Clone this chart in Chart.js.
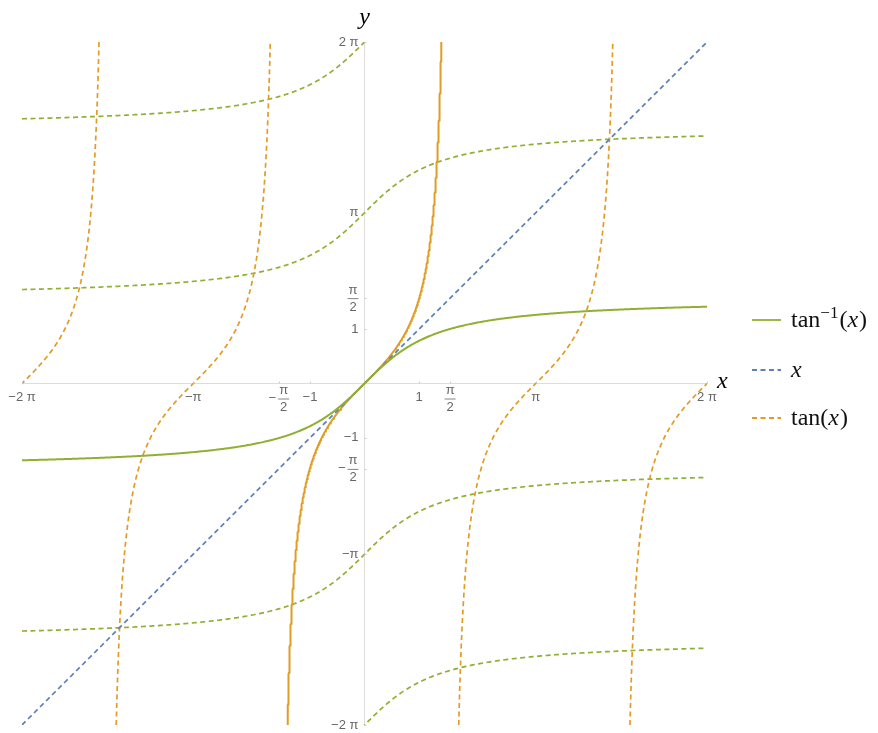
<!DOCTYPE html>
<html lang="en">
<head>
  <meta charset="UTF-8">
  <title>tan, x, arctan</title>
  <script src="https://cdn.jsdelivr.net/npm/chart.js"></script>
  <style>
    body { margin: 0; background: #fff; }
    canvas { display: block; }
  </style>
</head>
<body>
  <canvas id="grafico" width="878" height="733"></canvas>
  <script>
    const PI = Math.PI;
    const range = [-2 * PI, 2 * PI];

    // branch centres of tan(x) in multiples of pi (0 is the solid principal branch)
    const tanDashedCenters = [-2, -1, 1, 2];
    // vertical shifts of arctan(x) in multiples of pi (inverse branches)
    const arctanDashedShifts = [-2, -1, 1, 2];
    // sample parameter along each curve
    const samples = Array.from({ length: 601 }, (_, i) => range[0] + (range[1] - range[0]) * i / 600);

    const xTickValues = [-2 * PI, -PI, -PI / 2, -1, 1, PI / 2, PI, 2 * PI];
    const xTickLabels = ['−2 π', '−π', '−π/2', '−1', '1', 'π/2', 'π', '2 π'];
    const yTickValues = [-2 * PI, -PI, -PI / 2, -1, 1, PI / 2, PI, 2 * PI];
    const yTickLabels = ['−2 π', '−π', '−π/2', '−1', '1', 'π/2', 'π', '2 π'];

    const colors = { blue: '#5E81B5', orange: '#E19C24', green: '#8FB032' };
    const legendItems = [
      { label: 'atan', color: colors.green, dash: [] },
      { label: 'x', color: colors.blue, dash: [5, 3.5] },
      { label: 'tan', color: colors.orange, dash: [5, 3.5] }
    ];

    const arctanPts = shift => samples.map(t => ({ x: t, y: Math.atan(t) + shift * PI }));
    const tanPts = center => samples.map(t => ({ x: Math.atan(t) + center * PI, y: t }));

    const datasets = [
      { data: arctanPts(0), borderColor: colors.green, borderWidth: 2 },
      { data: [{ x: range[0], y: range[0] }, { x: range[1], y: range[1] }], borderColor: colors.blue, borderWidth: 1.7, borderDash: [5, 3.5] },
      { data: tanPts(0), borderColor: colors.orange, borderWidth: 2 }
    ];
    tanDashedCenters.forEach(c => datasets.push({ data: tanPts(c), borderColor: colors.orange, borderWidth: 1.7, borderDash: [5, 3.5] }));
    arctanDashedShifts.forEach(s => datasets.push({ data: arctanPts(s), borderColor: colors.green, borderWidth: 1.7, borderDash: [5, 3.5] }));
    datasets.forEach(d => { d.showLine = true; d.pointRadius = 0; d.fill = false; d.tension = 0; });

    function drawLabel(ctx, text, cx, cy, align) {
      // align: 'center' or 'right'; cy is the vertical centre
      ctx.font = '13px "Liberation Sans", Arial, sans-serif';
      ctx.fillStyle = '#666';
      ctx.textBaseline = 'middle';
      if (text.indexOf('/') < 0) {
        ctx.textAlign = align;
        ctx.fillText(text, cx, cy);
        return;
      }
      const neg = text[0] === '−';
      const [num, den] = (neg ? text.slice(1) : text).split('/');
      const mW = neg ? ctx.measureText('−').width + 2 : 0;
      const fW = Math.max(ctx.measureText(num).width, ctx.measureText(den).width) + 2;
      const total = mW + fW;
      const left = align === 'center' ? cx - total / 2 : cx - total;
      ctx.textAlign = 'left';
      if (neg) ctx.fillText('−', left, cy);
      const fc = left + mW + fW / 2;
      ctx.textAlign = 'center';
      ctx.fillText(num, fc, cy - 8);
      ctx.fillText(den, fc, cy + 9);
      ctx.strokeStyle = '#666';
      ctx.lineWidth = 0.8;
      ctx.beginPath();
      ctx.moveTo(fc - fW / 2, cy + 0.5);
      ctx.lineTo(fc + fW / 2, cy + 0.5);
      ctx.stroke();
    }

    const decorations = {
      id: 'decorations',
      afterDraw(chart) {
        const ctx = chart.ctx;
        const xs = chart.scales.x, ys = chart.scales.y;
        const ox = xs.getPixelForValue(0), oy = ys.getPixelForValue(0);
        ctx.save();
        // tick marks
        ctx.strokeStyle = '#ccc';
        ctx.lineWidth = 1;
        xTickValues.forEach(v => {
          const px = Math.round(xs.getPixelForValue(v)) + 0.5;
          ctx.beginPath(); ctx.moveTo(px, oy); ctx.lineTo(px, oy - 2); ctx.stroke();
        });
        yTickValues.forEach(v => {
          const py = Math.round(ys.getPixelForValue(v)) + 0.5;
          ctx.beginPath(); ctx.moveTo(ox, py); ctx.lineTo(ox + 2, py); ctx.stroke();
        });
        // tick labels
        xTickValues.forEach((v, i) => {
          const cy = xTickLabels[i].indexOf('/') < 0 ? oy + 14 : oy + 15;
          drawLabel(ctx, xTickLabels[i], xs.getPixelForValue(v), cy, 'center');
        });
        yTickValues.forEach((v, i) => drawLabel(ctx, yTickLabels[i], ox - 6, ys.getPixelForValue(v), 'right'));

        // axis titles
        ctx.fillStyle = '#000';
        ctx.font = 'italic 24px "Liberation Serif", serif';
        ctx.textAlign = 'left';
        ctx.textBaseline = 'middle';
        ctx.fillText('x', xs.right + 10, oy - 2);
        ctx.textAlign = 'center';
        ctx.fillText('y', ox, ys.top - 24);

        // legend
        const lx = xs.right + 45;
        const ly = [320, 370, 418];
        legendItems.forEach((it, i) => {
          ctx.strokeStyle = it.color;
          ctx.lineWidth = 1.8;
          ctx.setLineDash(it.dash);
          ctx.beginPath(); ctx.moveTo(lx, ly[i]); ctx.lineTo(lx + 29, ly[i]); ctx.stroke();
          ctx.setLineDash([]);
          ctx.fillStyle = '#111';
          ctx.textAlign = 'left';
          ctx.textBaseline = 'alphabetic';
          let tx = lx + 39;
          const base = ly[i] + 7;
          const up = '24px "Liberation Serif", serif';
          const itl = 'italic 24px "Liberation Serif", serif';
          const put = (s, font, dy) => { ctx.font = font; ctx.fillText(s, tx, base + (dy || 0)); tx += ctx.measureText(s).width; };
          if (it.label === 'atan') {
            put('tan', up); put('−1', '17px "Liberation Serif", serif', -9); tx += 1;
            put('(', up); put('x', itl); tx += 1; put(')', up);
          } else if (it.label === 'x') {
            put('x', itl);
          } else {
            put('tan', up); put('(', up); put('x', itl); tx += 1; put(')', up);
          }
        });
        ctx.restore();
      }
    };

    new Chart(document.getElementById('grafico'), {
      type: 'scatter',
      data: { datasets: datasets },
      options: {
        responsive: false,
        animation: false,
        layout: { padding: { left: 22, top: 42, right: 171, bottom: 8 } },
        plugins: { legend: { display: false }, tooltip: { enabled: false } },
        scales: {
          x: {
            type: 'linear', min: range[0], max: range[1], position: { y: 0 },
            ticks: { display: false }, grid: { display: false },
            border: { color: '#ddd', width: 1 }
          },
          y: {
            type: 'linear', min: range[0], max: range[1], position: { x: 0 },
            ticks: { display: false }, grid: { display: false },
            border: { color: '#ddd', width: 1 }
          }
        }
      },
      plugins: [decorations]
    });
  </script>
</body>
</html>
